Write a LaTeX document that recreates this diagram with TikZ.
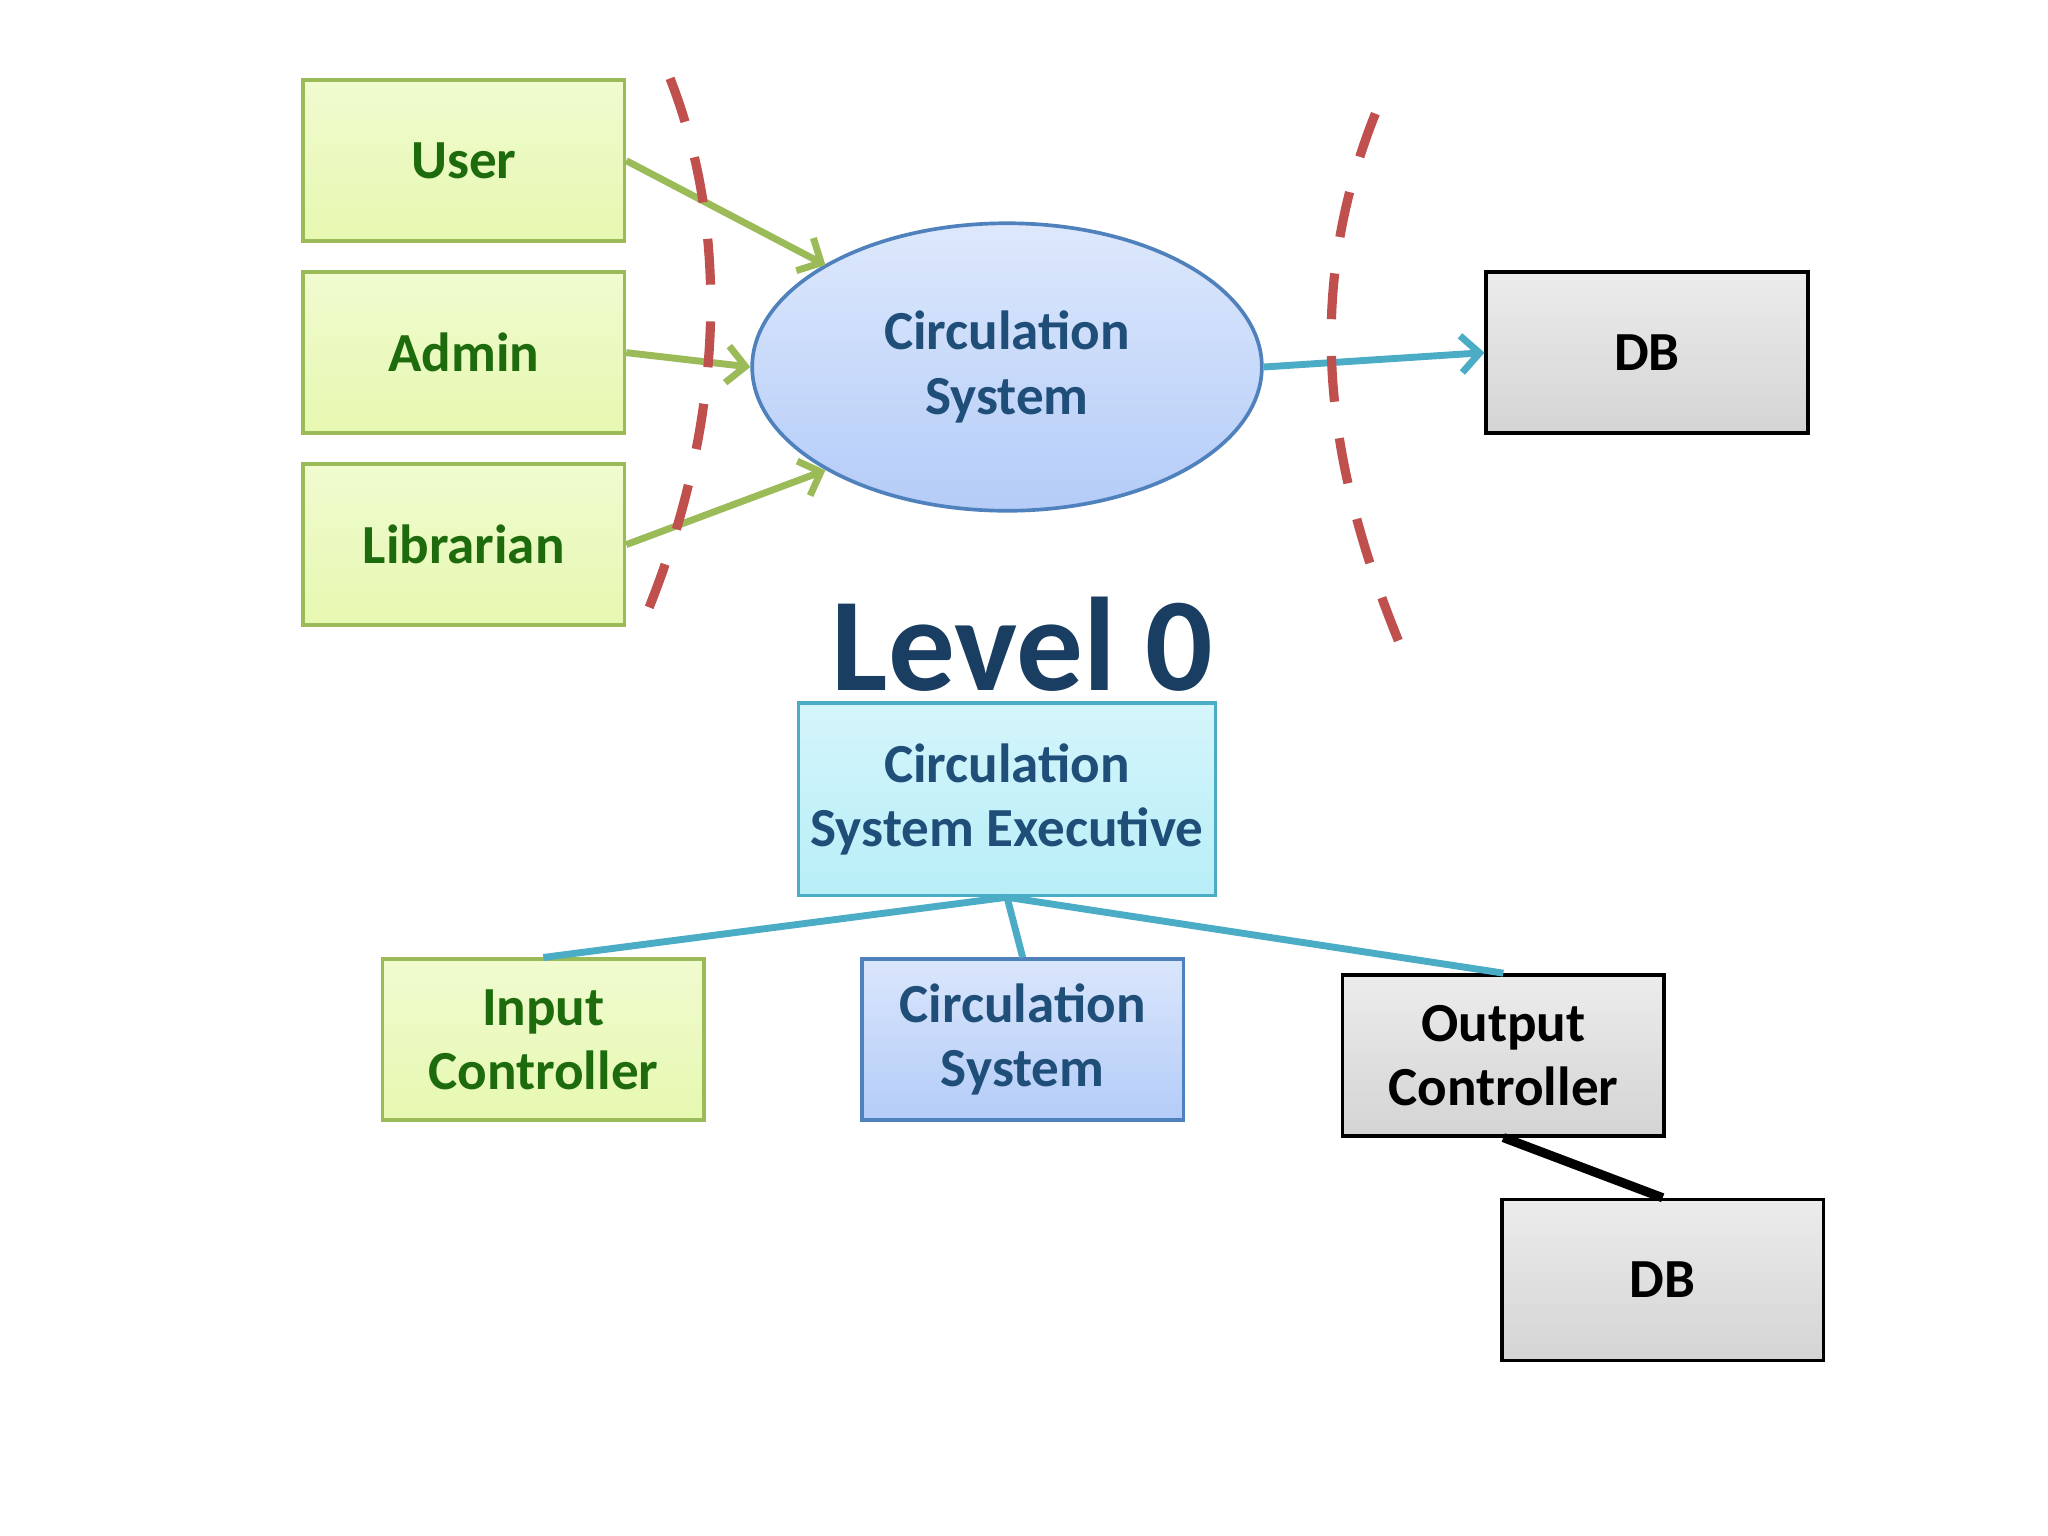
\documentclass[tikz,border=0pt]{standalone}
\usepackage{fontspec}
\setmainfont{Carlito}
\usetikzlibrary{shapes.geometric,arrows.meta}
\definecolor{gfill}{HTML}{E6F8B0}
\definecolor{gdraw}{HTML}{9BBB59}
\definecolor{gtext}{HTML}{1E6B0E}
\definecolor{bfill}{HTML}{B4CCF8}
\definecolor{bdraw}{HTML}{4F81BD}
\definecolor{btext}{HTML}{1F4E79}
\definecolor{cfill}{HTML}{B8EEF8}
\definecolor{cdraw}{HTML}{4BACC6}
\definecolor{gyfill}{HTML}{D4D4D4}
\definecolor{reddash}{HTML}{C0504D}
\tikzset{
 box/.style={minimum width=2.46cm,minimum height=1.23cm,inner sep=0pt,align=center,font=\fontsize{12}{14}\selectfont\bfseries},
 green/.style={box,top color=gfill!60,bottom color=gfill,draw=gdraw,line width=0.8pt,text=gtext},
 blue/.style={box,top color=bfill!50,bottom color=bfill,draw=bdraw,line width=0.8pt,text=btext},
 gray/.style={box,top color=white!85!gray,bottom color=gyfill,draw=black,line width=0.8pt,text=black},
 garrow/.style={draw=gdraw,line width=1.5pt,-{Straight Barb[length=4pt,width=8pt]}},
 barrow/.style={draw=cdraw,line width=1.5pt,-{Straight Barb[length=4pt,width=8pt]}},
 conn/.style={draw=cdraw,line width=1.5pt},
 redd/.style={draw=reddash,line width=2pt,dash pattern=on 10pt off 8pt},
}
\begin{document}
\begin{tikzpicture}[x=0.01cm,y=-0.01cm]
\useasboundingbox[fill=white] (0,0) rectangle (1568,1176);
\node[green] (user) at (355,123) {User};
\node[green] (admin) at (355,270) {Admin};
\node[green] (lib) at (355,417) {Librarian};
\node[ellipse,minimum width=3.9cm,minimum height=2.2cm,top color=bfill!45,bottom color=bfill,draw=bdraw,line width=0.8pt,text=btext,align=center,font=\fontsize{12}{14}\selectfont\bfseries] (circ) at (771,281) {Circulation\\System};
\node[gray] (db) at (1261,270) {DB};
\draw[garrow] (user.east) -- (632,203);
\draw[garrow] (admin.east) -- (circ.west);
\draw[garrow] (lib.east) -- (632,360);
\draw[barrow] (circ.east) -- (db.west);
\draw[redd] (513,60) .. controls (560,180) and (555,330) .. (490,482);
\draw[redd] (1053,87) .. controls (1000,220) and (1010,350) .. (1078,508);
\node[text=btext!80!black,font=\fontsize{29}{32}\selectfont\bfseries] (lvl) at (783,493) {Level 0};
\node[box,minimum width=3.19cm,minimum height=1.47cm,top color=cfill!60,bottom color=cfill,draw=cdraw,line width=0.8pt,text=btext] (exec) at (771,612) {Circulation\\System Executive};
\node[green] (in) at (416,796) {Input\\Controller};
\node[blue] (cs) at (783,796) {Circulation\\System};
\node[gray] (out) at (1151,808) {Output\\Controller};
\node[gray] (db2) at (1273,980) {DB};
\draw[conn] (exec.south) -- (in.north);
\draw[conn] (exec.south) -- (cs.north);
\draw[conn] (exec.south) -- (out.north);
\draw[line width=2pt] (out.south) -- (db2.north);
\end{tikzpicture}
\end{document}
